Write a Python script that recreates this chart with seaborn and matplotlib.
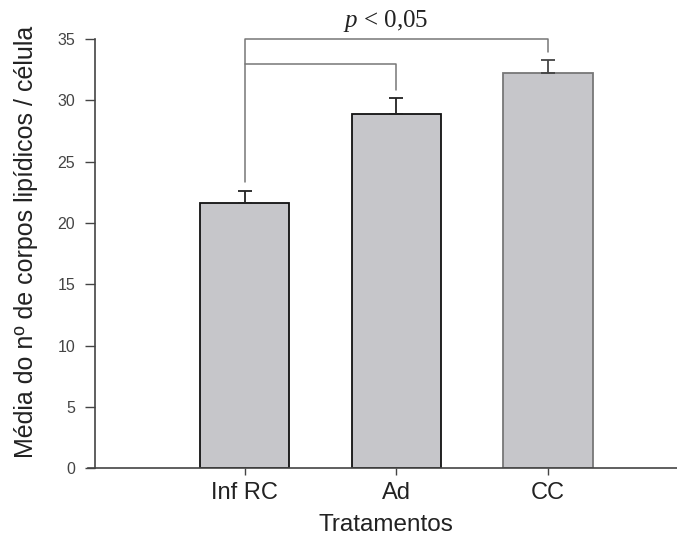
import matplotlib
matplotlib.use("Agg")
import matplotlib.pyplot as plt
import seaborn as sns
import pandas as pd
import numpy as np

categories = ["Inf RC", "Ad", "CC"]
means = [21.6, 28.9, 32.2]
errors = [1.0, 1.3, 1.1]
yticks = [0, 5, 10, 15, 20, 25, 30, 35]

sns.set_theme(style="white")
plt.rcParams['font.family'] = ['Liberation Sans', 'DejaVu Sans']
plt.rcParams['mathtext.fontset'] = 'custom'
plt.rcParams['mathtext.it'] = 'Liberation Serif:italic'
plt.rcParams['mathtext.rm'] = 'Liberation Serif'

df = pd.DataFrame({"trat": categories, "media": means})

fig = plt.figure(figsize=(6.77, 5.45), dpi=100)
ax = fig.add_axes([0.1396, 0.1404, 0.8604, 0.788])

sns.barplot(data=df, x="trat", y="media", color="#c6c6ca", width=0.59,
            saturation=1, ax=ax, errorbar=None, linewidth=1.3, edgecolor="#111111")
edgecols = ["#111111", "#111111", "#777777"]
for p, ec in zip(ax.patches, edgecols):
    p.set_edgecolor(ec)

xs = np.arange(len(categories))
for x, m, e, ec in zip(xs, means, errors, ["#222222", "#222222", "#444444"]):
    ax.errorbar(x, m, yerr=[[0], [e]], fmt="none", ecolor=ec, elinewidth=1.3,
                capsize=4.7, capthick=1.3)

# significance brackets
bc = "#777777"
ax.plot([0, 0, 2, 2], [23.35, 35.0, 35.0, 33.95], color=bc, lw=1.1, clip_on=False)
ax.plot([0, 1, 1], [33.0, 33.0, 30.85], color=bc, lw=1.1, clip_on=False)
ax.text(0.93, 36.5, r"$p$" + " < 0,05", ha="center", va="center", fontsize=18,
        family=["Liberation Serif", "DejaVu Serif"], color="#222222")

ax.set_xlim(-0.99, 2.85)
ax.set_ylim(0, 35)
ax.set_yticks(yticks)
ax.set_yticklabels([str(t) for t in yticks], fontsize=11.5, color="#444444")
ax.set_xticks(xs)
ax.set_xticklabels(categories, fontsize=17, color="#222222")
ax.tick_params(axis="y", left=True, direction="out", length=7, width=1, color="#444444", pad=7)
ax.tick_params(axis="x", bottom=True, direction="out", length=5, width=1, color="#444444", pad=5)

for s in ["top", "right"]:
    ax.spines[s].set_visible(False)
for s in ["left", "bottom"]:
    ax.spines[s].set_color("#444444")
    ax.spines[s].set_linewidth(1.2)
ax.spines["bottom"].set_bounds(-1.03, 2.85)

ax.set_xlabel("Tratamentos", fontsize=17.5, labelpad=7, color="#222222")
ax.set_ylabel("Média do nº de corpos lipídicos / célula", fontsize=18, color="#222222")
ax.yaxis.set_label_coords(-0.097, 0.527)

fig.savefig("out.png", dpi=100)
